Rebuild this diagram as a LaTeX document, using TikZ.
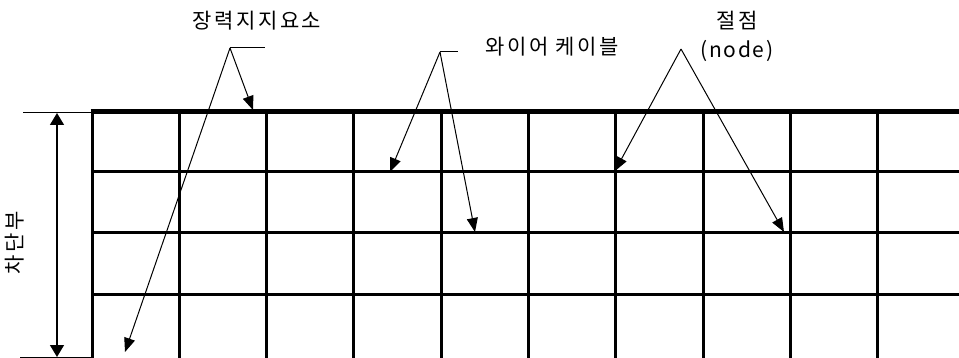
\documentclass[tikz,border=0pt]{standalone}
\usepackage{fontspec}
\setmainfont{Noto Sans CJK KR}
\newfontfamily\krfont[LetterSpace=12]{Noto Sans CJK KR}
\newfontfamily\enfont[LetterSpace=8]{Noto Sans CJK KR}
\usepackage{tikz}
\usetikzlibrary{arrows.meta, positioning, calc}

\begin{document}
\begin{tikzpicture}[x=1pt, y=-1pt,
        % 1. STYLES
        lbl/.style={font=\fontsize{21}{29}\selectfont\krfont, inner sep=0pt, align=center},
        gridline/.style={line width=3pt},
        topline/.style={line width=5pt},
        % dimension line with arrow tips at both ends
        dimline/.style={line width=1.5pt,
            {Triangle[length=12pt,width=14pt]}-{Triangle[length=12pt,width=14pt]}},
        thin/.style={line width=1pt},
        % leader arrows
        arrow/.style={thin, -{Triangle[length=14pt,width=11pt]}}
    ]
        \useasboundingbox (0,0) rectangle (959,358);

        % 2. GRID (cut off at the right and bottom edges)
        \begin{scope}
            \clip (0,0) rectangle (959,358);
            \foreach \i in {0,...,9}
                \draw[gridline] ({92+87.3*\i},112) -- ({92+87.3*\i},365);
            \foreach \y in {172,233,295}
                \draw[gridline] (92,\y) -- (965,\y);
            \draw[topline] (90.5,112) -- (965,112);
        \end{scope}

        % 3. DIMENSION
        \coordinate (dimtop) at (57,113);
        \coordinate (dimbot) at (57,357);
        \draw[thin] (23,113) -- (92,113);
        \draw[thin] (20,357) -- (92,357);
        \draw[dimline] (dimtop) -- (dimbot);
        \node[lbl, rotate=90] (cutoff) at (15,243) {차단부};

        % 4. LABELS AND LEADERS
        \node[lbl] (tension) at (257,21) {장력지지요소};
        \coordinate (tensionapex) at (230,48);
        \coordinate (tensionend) at (265,48);
        \coordinate (tensiontop) at (253,110);
        \coordinate (tensionlow) at (125,352);

        \node[lbl] (wire) at (552,47) {와이어 케이블};
        \coordinate (wireapex) at (440,52);
        \coordinate (wireend) at (458,52);
        \coordinate (wireone) at (390,172);
        \coordinate (wiretwo) at (475,232);

        \node[lbl] (joint) at (737,36) {절점\\{\enfont(node)}};
        \coordinate (jointapex) at (681,49);
        \coordinate (jointone) at (615,171);
        \coordinate (jointtwo) at (784,232);

        % 5. ARROWS
        \draw[thin] (tensionapex) -- (tensionend);
        \draw[arrow] (tensionapex) -- (tensiontop);
        \draw[arrow] (tensionapex) -- (tensionlow);
        \draw[thin] (wireapex) -- (wireend);
        \draw[arrow] (wireapex) -- (wireone);
        \draw[arrow] (wireapex) -- (wiretwo);
        \draw[arrow] (jointapex) -- (jointone);
        \draw[arrow] (jointapex) -- (jointtwo);

    \end{tikzpicture}
\end{document}
